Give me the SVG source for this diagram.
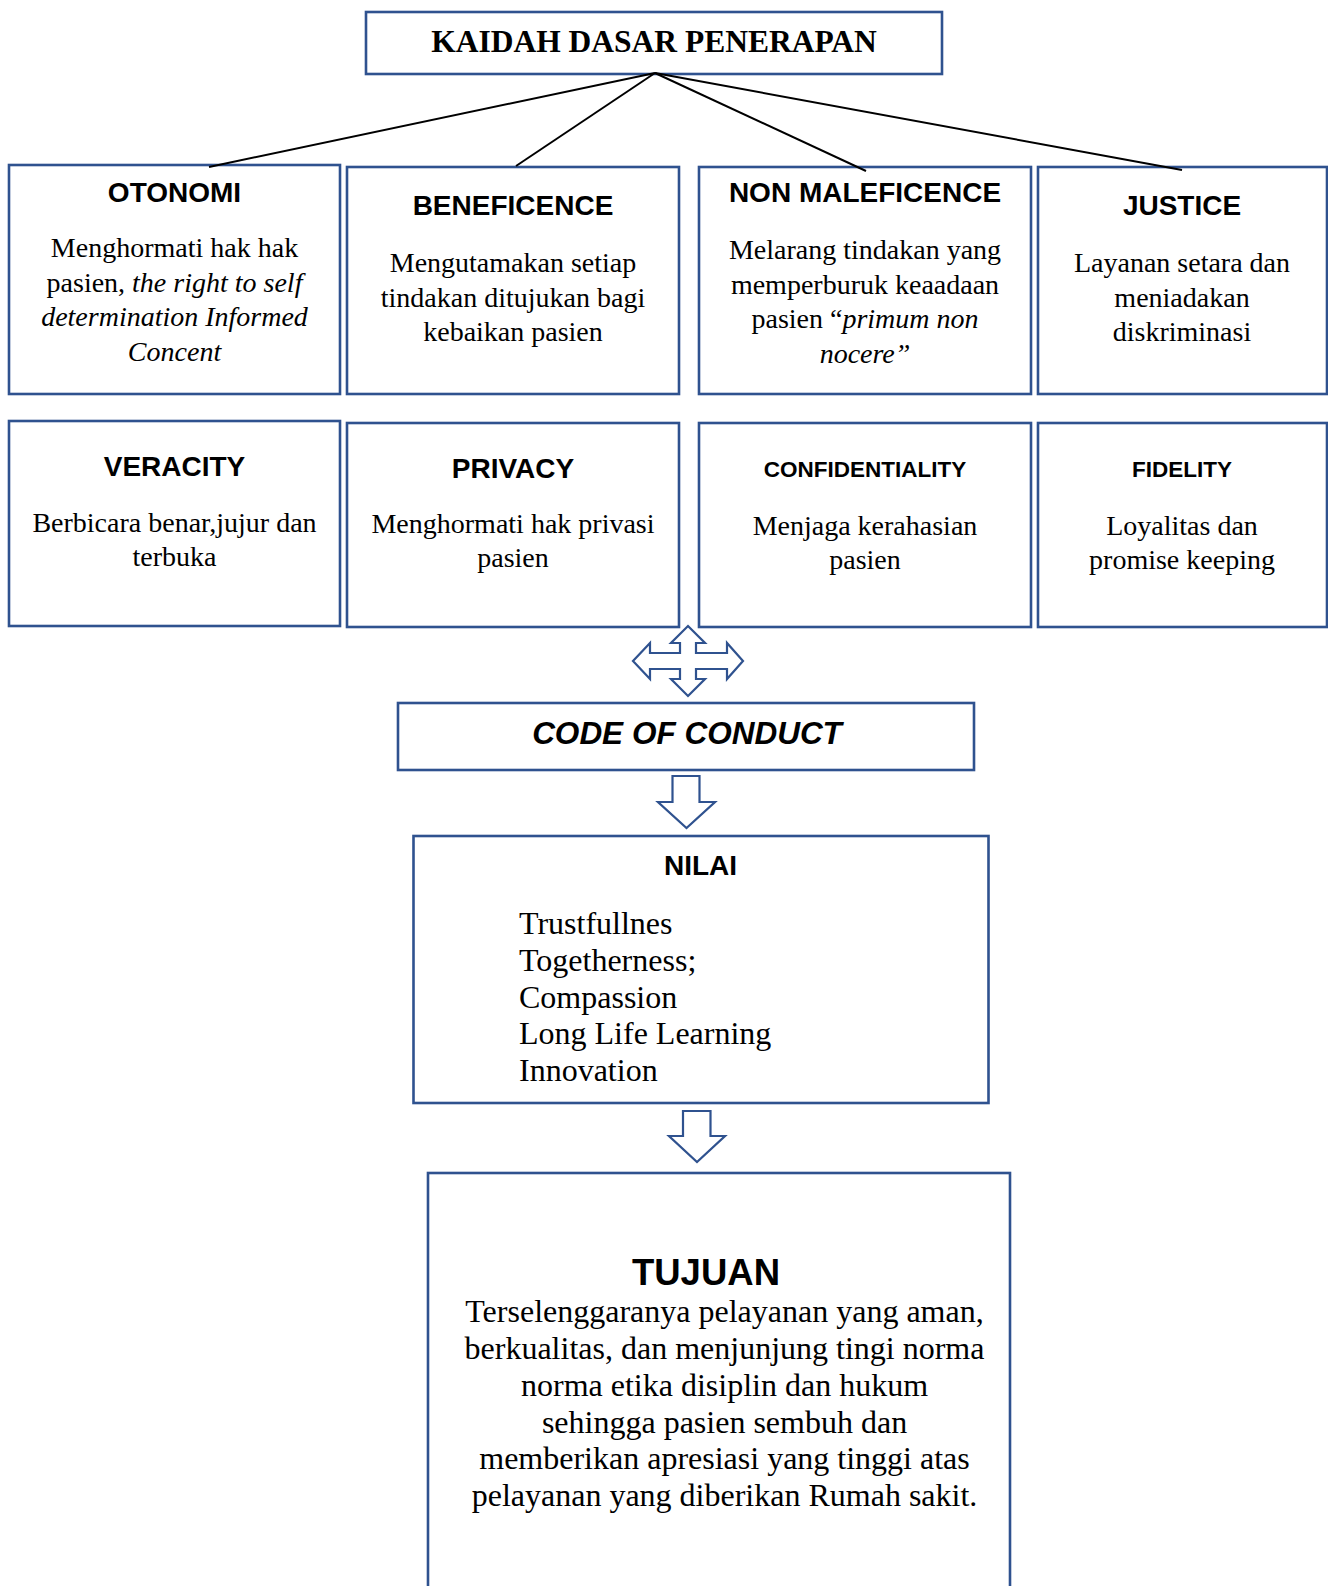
<svg xmlns="http://www.w3.org/2000/svg" width="1328" height="1586" viewBox="0 0 1328 1586">
<style>
.box{fill:#fff;stroke:#2F528F;stroke-width:2.6}
.arr{fill:#fff;stroke:#2F528F;stroke-width:2.2;stroke-linejoin:miter}
.conn{stroke:#000;stroke-width:2;fill:none}
.t{font-family:"Liberation Sans",Arial,sans-serif;font-weight:bold;font-size:28px;fill:#000;text-anchor:middle}
.tc{font-family:"Liberation Sans",Arial,sans-serif;font-weight:bold;font-size:22.5px;fill:#000;text-anchor:middle}
.b{font-family:"Liberation Serif","Times New Roman",serif;font-size:28px;fill:#000;text-anchor:middle}
.i{font-style:italic}
</style>
<rect width="1328" height="1586" fill="#fff"/>
<g id="kaidah">
<rect class="box" x="366" y="12" width="576" height="62"/>
<text x="654" y="52" style="font-family:'Liberation Serif','Times New Roman',serif;font-weight:bold;font-size:31.5px;text-anchor:middle">KAIDAH DASAR PENERAPAN</text>
</g>
<g id="otonomi">
<rect class="box" x="9" y="165" width="331" height="229"/>
<text class="t" x="174.5" y="202">OTONOMI</text>
<text class="b" x="174.5" y="257">Menghormati hak hak</text>
<text class="b" x="174.5" y="291.5">pasien, <tspan class="i">the right to self</tspan></text>
<text class="b i" x="174.5" y="326">determination Informed</text>
<text class="b i" x="174.5" y="360.5">Concent</text>
</g>
<g id="beneficence">
<rect class="box" x="347" y="167" width="332" height="227"/>
<text class="t" x="513" y="215">BENEFICENCE</text>
<text class="b" x="513" y="272">Mengutamakan setiap</text>
<text class="b" x="513" y="306.5">tindakan ditujukan bagi</text>
<text class="b" x="513" y="341">kebaikan pasien</text>
</g>
<g id="nonmaleficence">
<rect class="box" x="699" y="167" width="332" height="227"/>
<text class="t" x="865" y="202">NON MALEFICENCE</text>
<text class="b" x="865" y="259">Melarang tindakan yang</text>
<text class="b" x="865" y="293.5">memperburuk keaadaan</text>
<text class="b" x="865" y="328">pasien “<tspan class="i">primum non</tspan></text>
<text class="b i" x="865" y="362.5">nocere”</text>
</g>
<g id="justice">
<rect class="box" x="1038" y="167" width="289" height="227"/>
<text class="t" x="1182" y="215">JUSTICE</text>
<text class="b" x="1182" y="272">Layanan setara dan</text>
<text class="b" x="1182" y="306.5">meniadakan</text>
<text class="b" x="1182" y="341">diskriminasi</text>
</g>
<g id="veracity">
<rect class="box" x="9" y="421" width="331" height="205"/>
<text class="t" x="174.5" y="476">VERACITY</text>
<text class="b" x="174.5" y="532">Berbicara benar,jujur dan</text>
<text class="b" x="174.5" y="566">terbuka</text>
</g>
<g id="privacy">
<rect class="box" x="347" y="423" width="332" height="204"/>
<text class="t" x="513" y="478">PRIVACY</text>
<text class="b" x="513" y="533">Menghormati hak privasi</text>
<text class="b" x="513" y="567">pasien</text>
</g>
<g id="confidentiality">
<rect class="box" x="699" y="423" width="332" height="204"/>
<text class="tc" x="865" y="477">CONFIDENTIALITY</text>
<text class="b" x="865" y="535">Menjaga kerahasian</text>
<text class="b" x="865" y="569">pasien</text>
</g>
<g id="fidelity">
<rect class="box" x="1038" y="423" width="289" height="204"/>
<text class="tc" x="1182" y="477">FIDELITY</text>
<text class="b" x="1182" y="535">Loyalitas dan</text>
<text class="b" x="1182" y="569">promise keeping</text>
</g>
<g id="connectors">
<line class="conn" x1="655" y1="73" x2="209" y2="167"/>
<line class="conn" x1="655" y1="73" x2="516" y2="166"/>
<line class="conn" x1="655" y1="73" x2="866" y2="171"/>
<line class="conn" x1="655" y1="73" x2="1182" y2="170"/>
</g>
<g id="cross-arrow">
<path class="arr" d="M688,626 L705,643 L696,643 L696,653 L727,653 L727,643 L743,661 L727,679 L727,669 L696,669 L696,679 L705,679 L688,696 L671,679 L680,679 L680,669 L650,669 L650,679 L633,661 L650,643 L650,653 L680,653 L680,643 L671,643 Z"/>
</g>
<g id="code-of-conduct">
<rect class="box" x="398" y="703" width="576" height="67"/>
<text x="687" y="744" style="font-family:'Liberation Sans',Arial,sans-serif;font-weight:bold;font-style:italic;font-size:31.5px;text-anchor:middle">CODE OF CONDUCT</text>
</g>
<g id="arrow-1">
<path class="arr" d="M672.5,776 L699.5,776 L699.5,802 L715,802 L686.5,828 L658,802 L672.5,802 Z"/>
</g>
<g id="nilai">
<rect class="box" x="413.5" y="836" width="575" height="267"/>
<text class="t" x="700.5" y="875">NILAI</text>
<g style="font-family:'Liberation Serif','Times New Roman',serif;font-size:32px;fill:#000">
<text x="519" y="934">Trustfullnes</text>
<text x="519" y="971">Togetherness;</text>
<text x="519" y="1007.5">Compassion</text>
<text x="519" y="1044">Long Life Learning</text>
<text x="519" y="1080.5">Innovation</text>
</g>
</g>
<g id="arrow-2">
<path class="arr" d="M683,1111 L710.5,1111 L710.5,1136 L725,1136 L697,1162 L669,1136 L683,1136 Z"/>
</g>
<g id="tujuan">
<rect class="box" x="428" y="1173" width="582" height="430"/>
<text x="706" y="1285" style="font-family:'Liberation Sans',Arial,sans-serif;font-weight:bold;font-size:36.5px;text-anchor:middle">TUJUAN</text>
<g style="font-family:'Liberation Serif','Times New Roman',serif;font-size:32px;fill:#000;text-anchor:middle">
<text x="724.5" y="1322">Terselenggaranya pelayanan yang aman,</text>
<text x="724.5" y="1359">berkualitas, dan menjunjung tingi norma</text>
<text x="724.5" y="1396">norma etika disiplin dan hukum</text>
<text x="724.5" y="1433">sehingga pasien sembuh dan</text>
<text x="724.5" y="1469">memberikan apresiasi yang tinggi atas</text>
<text x="724.5" y="1506">pelayanan yang diberikan Rumah sakit.</text>
</g>
</g>
</svg>
